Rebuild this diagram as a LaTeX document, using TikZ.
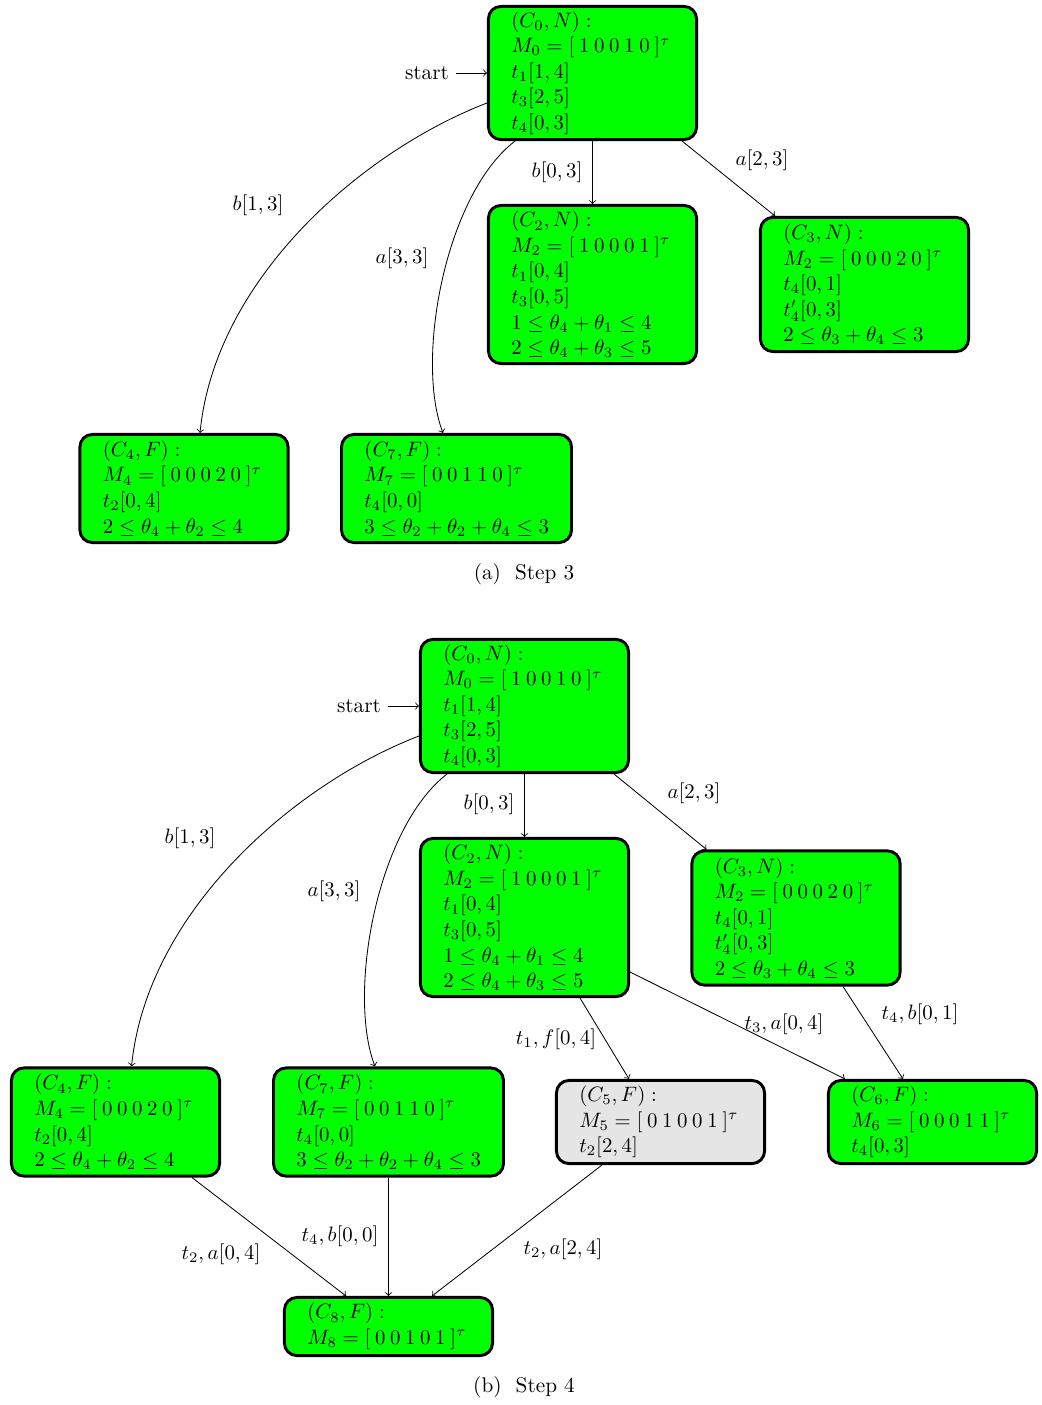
\documentclass[tikz,border=0pt]{standalone}
\usetikzlibrary{calc}
\newcommand\myln[1]{\mbox{$#1$}}
\begin{document}
\begin{tikzpicture}[x=0.48pt,y=-0.48pt,
  every node/.style={font=\fontsize{10.2}{12.25}\selectfont},
  box/.style={draw, line width=1.4pt, rounded corners=6pt, fill=green, align=left, inner xsep=11pt, inner ysep=0pt},
  grey/.style={fill=gray!20},
  wA/.style={text width=77.9pt},
  wB/.style={text width=88.4pt},
  lbl/.style={inner sep=1pt},
  edge/.style={->}]
\useasboundingbox (0,0) rectangle (1041,1405);

% ---------------- Step 3 ----------------
\node[box,wA,minimum height=63.9pt] (a0) at (592.5,73)
  {\myln{(C_0,N):}\\ \myln{M_0=[\:1\:0\:0\:1\:0\:]^\tau}\\ \myln{t_1[1,4]}\\ \myln{t_3[2,5]}\\ \myln{t_4[0,3]}};
\node[box,wA,minimum height=75.9pt] (a2) at (592.5,284.5)
  {\myln{(C_2,N):}\\ \myln{M_2=[\:1\:0\:0\:0\:1\:]^\tau}\\ \myln{t_1[0,4]}\\ \myln{t_3[0,5]}\\ \myln{1\le\theta_4+\theta_1\le4}\\ \myln{2\le\theta_4+\theta_3\le5}};
\node[box,wA,minimum height=64.4pt] (a3) at (864.5,284.5)
  {\myln{(C_3,N):}\\ \myln{M_2=[\:0\:0\:0\:2\:0\:]^\tau}\\ \myln{t_4[0,1]}\\ \myln{t'_4[0,3]}\\ \myln{2\le\theta_3+\theta_4\le3}};
\node[box,wA,minimum height=51.9pt] (a4) at (184,488.5)
  {\myln{(C_4,F):}\\ \myln{M_4=[\:0\:0\:0\:2\:0\:]^\tau}\\ \myln{t_2[0,4]}\\ \myln{2\le\theta_4+\theta_2\le4}};
\node[box,wB,minimum height=51.9pt] (a7) at (456.5,488.5)
  {\myln{(C_7,F):}\\ \myln{M_7=[\:0\:0\:1\:1\:0\:]^\tau}\\ \myln{t_4[0,0]}\\ \myln{3\le\theta_2+\theta_2+\theta_4\le3}};

\node (as) at (427,73) {start};
\draw[edge] (as) -- (a0.west);
\draw[edge] ($(a0.west)+(0,30)$) .. controls (360,152) and (215,280) .. ($(a4.north)+(16,0)$);
\draw[edge] ($(a0.south)+(-77.5,0)$) .. controls (445,195) and (415,360) .. ($(a7.north)+(-13.5,0)$);
\draw[edge] (a0.south) -- (a2.north);
\draw[edge] ($(a0.south)+(89.5,0)$) -- ($(a3.north)+(-89.5,0)$);
\node[lbl] (la1) at (258,205) {$b[1,3]$};
\node[lbl] (la2) at (402,258) {$a[3,3]$};
\node[lbl] (la3) at (557,172) {$b[0,3]$};
\node[lbl] (la4) at (762,160) {$a[2,3]$};
\node (capa) at (524,574) {(a)\ \ Step 3};

% ---------------- Step 4 ----------------
\node[box,wA,minimum height=63.9pt] (b0) at (524.5,706)
  {\myln{(C_0,N):}\\ \myln{M_0=[\:1\:0\:0\:1\:0\:]^\tau}\\ \myln{t_1[1,4]}\\ \myln{t_3[2,5]}\\ \myln{t_4[0,3]}};
\node[box,wA,minimum height=75.9pt] (b2) at (524.5,917.5)
  {\myln{(C_2,N):}\\ \myln{M_2=[\:1\:0\:0\:0\:1\:]^\tau}\\ \myln{t_1[0,4]}\\ \myln{t_3[0,5]}\\ \myln{1\le\theta_4+\theta_1\le4}\\ \myln{2\le\theta_4+\theta_3\le5}};
\node[box,wA,minimum height=64.4pt] (b3) at (796,918)
  {\myln{(C_3,N):}\\ \myln{M_2=[\:0\:0\:0\:2\:0\:]^\tau}\\ \myln{t_4[0,1]}\\ \myln{t'_4[0,3]}\\ \myln{2\le\theta_3+\theta_4\le3}};
\node[box,wA,minimum height=51.9pt] (b4) at (115.5,1122)
  {\myln{(C_4,F):}\\ \myln{M_4=[\:0\:0\:0\:2\:0\:]^\tau}\\ \myln{t_2[0,4]}\\ \myln{2\le\theta_4+\theta_2\le4}};
\node[box,wB,minimum height=51.9pt] (b7) at (388.5,1122)
  {\myln{(C_7,F):}\\ \myln{M_7=[\:0\:0\:1\:1\:0\:]^\tau}\\ \myln{t_4[0,0]}\\ \myln{3\le\theta_2+\theta_2+\theta_4\le3}};
\node[box,grey,wA,minimum height=39.9pt] (b5) at (660.5,1122)
  {\myln{(C_5,F):}\\ \myln{M_5=[\:0\:1\:0\:0\:1\:]^\tau}\\ \myln{t_2[2,4]}};
\node[box,wA,minimum height=39.9pt] (b6) at (932.5,1122)
  {\myln{(C_6,F):}\\ \myln{M_6=[\:0\:0\:0\:1\:1\:]^\tau}\\ \myln{t_4[0,3]}};
\node[box,wA,minimum height=27.9pt] (b8) at (388.5,1326.5)
  {\myln{(C_8,F):}\\ \myln{M_8=[\:0\:0\:1\:0\:1\:]^\tau}};

\node (bs) at (359,706) {start};
\draw[edge] (bs) -- (b0.west);
\draw[edge] ($(b0.west)+(0,30)$) .. controls (292,785) and (147,913) .. ($(b4.north)+(16,0)$);
\draw[edge] ($(b0.south)+(-77.5,0)$) .. controls (377,828) and (347,993) .. ($(b7.north)+(-13.5,0)$);
\draw[edge] (b0.south) -- (b2.north);
\draw[edge] ($(b0.south)+(89.5,0)$) -- ($(b3.north)+(-89.5,0)$);
\draw[edge] ($(b2.south)+(55.5,0)$) -- ($(b5.north)+(-31.5,0)$);
\draw[edge] ($(b2.east)+(0,54.5)$) -- ($(b6.north)+(-87.5,0)$);
\draw[edge] ($(b3.south)+(47,0)$) -- ($(b6.north)+(-29.5,0)$);
\draw[edge] ($(b4.south)+(76.5,0)$) -- ($(b8.north)+(-42.5,0)$);
\draw[edge] (b7.south) -- (b8.north);
\draw[edge] ($(b5.south)+(-58.5,0)$) -- ($(b8.north)+(43.5,0)$);
\node[lbl] (lb1) at (190,838) {$b[1,3]$};
\node[lbl] (lb2) at (334,891) {$a[3,3]$};
\node[lbl] (lb3) at (489,804) {$b[0,3]$};
\node[lbl] (lb4) at (694,793) {$a[2,3]$};
\node[lbl] (lb5) at (556,1039) {$t_1,f[0,4]$};
\node[lbl] (lb6) at (784,1024) {$t_3,a[0,4]$};
\node[lbl] (lb7) at (920,1014) {$t_4,b[0,1]$};
\node[lbl] (lb8) at (221,1254) {$t_2,a[0,4]$};
\node[lbl] (lb9) at (340,1236) {$t_4,b[0,0]$};
\node[lbl] (lb10) at (563,1249) {$t_2,a[2,4]$};
\node (capb) at (524,1387) {(b)\ \ Step 4};
\end{tikzpicture}
\end{document}
